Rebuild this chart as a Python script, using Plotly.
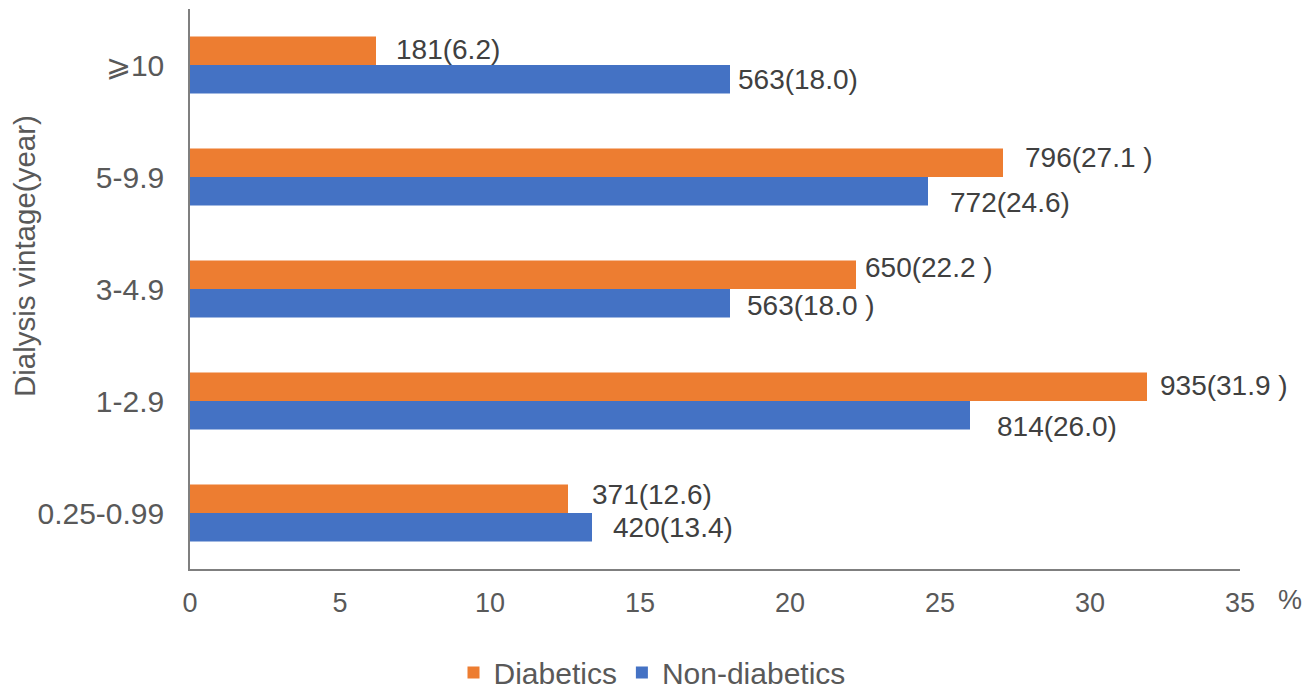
import plotly.graph_objects as go

# ---- data (bottom to top on the category axis) ----
categories = ["0.25-0.99", "1-2.9", "3-4.9", "5-9.9", "⩾10"]
diab_pct = [12.6, 31.9, 22.2, 27.1, 6.2]
diab_labels = ["371(12.6)", "935(31.9 )", "650(22.2 )", "796(27.1 )", "181(6.2)"]
nondiab_pct = [13.4, 26.0, 18.0, 24.6, 18.0]
nondiab_labels = ["420(13.4)", "814(26.0)", "563(18.0 )", "772(24.6)", "563(18.0)"]
x_ticks = [0, 5, 10, 15, 20, 25, 30, 35]

# ---- label placement offsets (pixels, style only) ----
diab_dx = [22, 11, 7, 20, 18]
diab_dy = [4, 1, 7, 5, 1]
non_dx = [19, 25, 15, 20, 6]
non_dy = [0, -11, -2, -11, 0]

ORANGE = "#ED7D31"
BLUE = "#4472C4"
FONT = "Liberation Sans, Arial, sans-serif"

fig = go.Figure()
# first trace sits lower within each group for horizontal bars
fig.add_trace(go.Bar(
    y=categories, x=nondiab_pct, orientation="h", name="Non-diabetics",
    marker=dict(color=BLUE, line=dict(width=0)), hoverinfo="x+y",
))
fig.add_trace(go.Bar(
    y=categories, x=diab_pct, orientation="h", name="Diabetics",
    marker=dict(color=ORANGE, line=dict(width=0)), hoverinfo="x+y",
))

BAR_OFF = 14.3  # half of a bar's thickness in px
annotations = []
for c, v, t, dx, dy in zip(categories, diab_pct, diab_labels, diab_dx, diab_dy):
    annotations.append(dict(x=v, y=c, xref="x", yref="y", text=t, showarrow=False,
                            xanchor="left", yanchor="middle", xshift=dx, yshift=BAR_OFF + dy,
                            font=dict(family=FONT, size=28, color="#404040")))
for c, v, t, dx, dy in zip(categories, nondiab_pct, nondiab_labels, non_dx, non_dy):
    annotations.append(dict(x=v, y=c, xref="x", yref="y", text=t, showarrow=False,
                            xanchor="left", yanchor="middle", xshift=dx, yshift=-BAR_OFF + dy,
                            font=dict(family=FONT, size=28, color="#404040")))
# unit marker at the right end of the x axis
annotations.append(dict(x=1.0476, y=-0.055, xref="paper", yref="paper", text="%",
                        showarrow=False, xanchor="center", yanchor="middle",
                        font=dict(family=FONT, size=27, color="#595959")))
# y axis title
annotations.append(dict(x=-0.157, y=0.559, xref="paper", yref="paper",
                        text="Dialysis vintage(year)", textangle=-90, showarrow=False,
                        xanchor="center", yanchor="middle",
                        font=dict(family=FONT, size=29.5, color="#595959")))

fig.update_layout(
    width=1312, height=689, autosize=False,
    margin=dict(l=190, r=72, t=9, b=120, pad=0),
    paper_bgcolor="white", plot_bgcolor="white",
    barmode="group", bargap=0.49, bargroupgap=0,
    font=dict(family=FONT, size=28, color="#595959"),
    showlegend=True,
    legend=dict(orientation="h", traceorder="reversed", x=0.44, xanchor="center",
                yref="container", y=0.024, yanchor="middle",
                font=dict(family=FONT, size=30, color="#595959"),
                bgcolor="rgba(0,0,0,0)", itemwidth=30),
    annotations=annotations,
)
fig.update_xaxes(range=[0, 35], tickvals=x_ticks, showgrid=False, zeroline=False,
                 showline=True, linecolor="#7f7f7f", linewidth=2, ticks="",
                 ticklabelstandoff=9, tickfont=dict(size=27, color="#595959"),
                 fixedrange=True)
fig.update_yaxes(type="category", categoryorder="array", categoryarray=categories,
                 showgrid=False, zeroline=False, showline=True, linecolor="#7f7f7f",
                 linewidth=1.5, ticks="", ticklabelstandoff=18,
                 tickfont=dict(size=30, color="#595959"), fixedrange=True)

fig.write_html("out.html")
